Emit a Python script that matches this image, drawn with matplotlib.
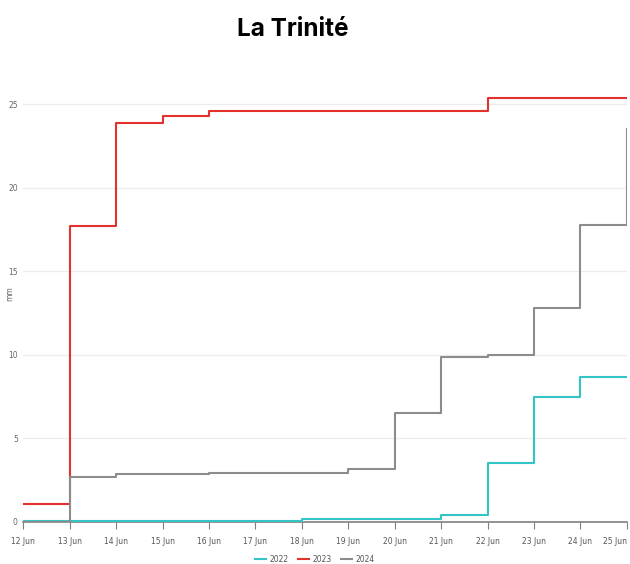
import matplotlib.pyplot as plt
import numpy as np

# cumulative rainfall (mm), one value per day
days = ['12 Jun', '13 Jun', '14 Jun', '15 Jun', '16 Jun', '17 Jun', '18 Jun',
        '19 Jun', '20 Jun', '21 Jun', '22 Jun', '23 Jun', '24 Jun', '25 Jun']
rain_2022 = [0.05, 0.05, 0.05, 0.05, 0.05, 0.05, 0.2, 0.2, 0.2, 0.4, 3.5, 7.5, 8.7, 8.7]
rain_2023 = [1.1, 17.7, 23.9, 24.3, 24.6, 24.6, 24.6, 24.6, 24.6, 24.6, 25.4, 25.4, 25.4, 25.4]
rain_2024 = [0.0, 2.7, 2.85, 2.9, 2.95, 2.95, 2.95, 3.2, 6.5, 9.9, 10.0, 12.8, 17.8, 23.5]
yticks = [0, 5, 10, 15, 20, 25]

series = [('2022', rain_2022, '#33c5c5'),
          ('2023', rain_2023, '#e3312d'),
          ('2024', rain_2024, '#8c8c8c')]

fig = plt.figure(figsize=(6.3, 5.64), dpi=100)
ax = fig.add_axes([0.037, 0.0745, 0.958, 0.80])

x = np.arange(len(days))
for name, vals, col in series:
    ax.step(x, vals, where='post', color=col, lw=1.5, label=name, zorder=3)

ax.set_xlim(0, len(days) - 1)
ax.set_ylim(0, 27)
ax.set_xticks(x)
ax.set_xticklabels(days)
ax.set_yticks(yticks)
# last date label sits flush with the right edge
ax.get_xticklabels()[-1].set_horizontalalignment('right')

for s in ['top', 'right', 'left']:
    ax.spines[s].set_visible(False)
ax.spines['bottom'].set_color('#808080')
ax.spines['bottom'].set_linewidth(1.2)
ax.grid(axis='y', color='#ececec', lw=0.9)
ax.set_axisbelow(True)
ax.tick_params(axis='x', length=5, color='#808080', labelsize=5.5,
               labelcolor='#555555', pad=6)
ax.tick_params(axis='y', length=0, labelsize=5.5, labelcolor='#666666', pad=4)

fig.text(0.016, 0.48, 'mm', rotation=90, fontsize=5.5, color='#666666',
         ha='center', va='center')
fig.text(0.465, 0.947, 'La Trinité', fontsize=17.5, fontweight='bold',
         family='Inter', ha='center', va='center')

fig.legend(loc='lower center', bbox_to_anchor=(0.5, -0.012), ncol=3,
           frameon=False, fontsize=5.5, handlelength=1.4, columnspacing=1.2,
           handletextpad=0.5, labelcolor='#555555')

fig.savefig('out.png', dpi=100)
